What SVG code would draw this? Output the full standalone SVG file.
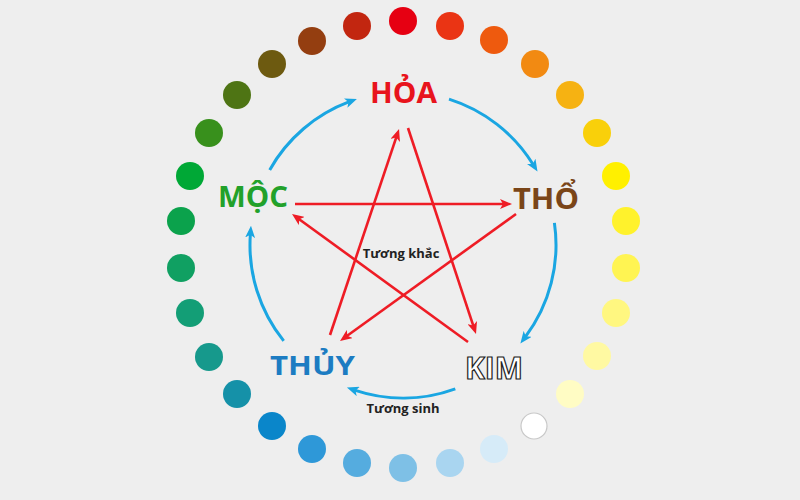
<svg xmlns="http://www.w3.org/2000/svg" width="800" height="500" viewBox="0 0 800 500">
<style>
.lbl{font-family:"Open Sans","Noto Sans","Liberation Sans",sans-serif;font-weight:700;text-anchor:middle}
.small{font-family:"Open Sans","Noto Sans","Liberation Sans",sans-serif;font-weight:700;font-size:13px;fill:#222;text-anchor:middle}
.sinh{fill:none;stroke:#1AA6E2;stroke-width:3;marker-end:url(#ab)}
.khac{fill:none;stroke:#EE1C25;stroke-width:2.6;marker-end:url(#ar)}
</style>
<defs>
<marker id="ab" viewBox="0 0 12 10" refX="4" refY="5" markerWidth="12" markerHeight="10" markerUnits="userSpaceOnUse" orient="auto"><path d="M0,0 L12,5 L0,10 L3,5 z" fill="#1AA6E2"/></marker>
<marker id="ar" viewBox="0 0 12 10" refX="4" refY="5" markerWidth="12" markerHeight="10" markerUnits="userSpaceOnUse" orient="auto"><path d="M0,0 L12,5 L0,10 L3,5 z" fill="#EE1C25"/></marker>
</defs>
<rect width="800" height="500" fill="#EEEEEE"/>
<g id="dots">
<circle cx="403" cy="21" r="14" fill="#E60012"/>
<circle cx="450" cy="26" r="14" fill="#EA3414"/>
<circle cx="494" cy="40" r="14" fill="#EE5A0E"/>
<circle cx="535" cy="64" r="14" fill="#F28A12"/>
<circle cx="570" cy="95" r="14" fill="#F6B212"/>
<circle cx="597" cy="133" r="14" fill="#F9D00A"/>
<circle cx="616" cy="176" r="14" fill="#FFF000"/>
<circle cx="626" cy="221" r="14" fill="#FFF22C"/>
<circle cx="626" cy="268" r="14" fill="#FFF452"/>
<circle cx="616" cy="313" r="14" fill="#FFF780"/>
<circle cx="597" cy="356" r="14" fill="#FFF9A2"/>
<circle cx="570" cy="394" r="14" fill="#FFFCC4"/>
<circle cx="534" cy="426" r="13" fill="#FFFFFF" stroke="#C8C8C8" stroke-width="1.2"/>
<circle cx="494" cy="449" r="14" fill="#D6EBF8"/>
<circle cx="450" cy="463" r="14" fill="#A9D5F0"/>
<circle cx="403" cy="468" r="14" fill="#7EC0E6"/>
<circle cx="357" cy="463" r="14" fill="#55ACDF"/>
<circle cx="312" cy="449" r="14" fill="#2E98D8"/>
<circle cx="272" cy="426" r="14" fill="#0A86CA"/>
<circle cx="237" cy="394" r="14" fill="#1591A8"/>
<circle cx="209" cy="357" r="14" fill="#16998C"/>
<circle cx="190" cy="313" r="14" fill="#139E76"/>
<circle cx="181" cy="268" r="14" fill="#10A062"/>
<circle cx="181" cy="221" r="14" fill="#0BA24C"/>
<circle cx="190" cy="176" r="14" fill="#00A836"/>
<circle cx="209" cy="133" r="14" fill="#38901C"/>
<circle cx="237" cy="95" r="14" fill="#4E7414"/>
<circle cx="272" cy="64" r="14" fill="#6D5A10"/>
<circle cx="312" cy="41" r="14" fill="#943E10"/>
<circle cx="357" cy="26" r="14" fill="#C22610"/>
</g>
<g id="connectors">
<path class="sinh" d="M269.7,169.9 A153,153 0 0 1 349.4,101.7"/>
<path class="sinh" d="M449,99.1 A153,153 0 0 1 533.3,164.8"/>
<path class="sinh" d="M554.4,222.9 A153,153 0 0 1 525.2,337.1"/>
<path class="sinh" d="M455.3,388.8 A153,153 0 0 1 354.5,390.1"/>
<path class="sinh" d="M283.7,340.9 A153,153 0 0 1 250.4,233.8"/>
<path class="khac" d="M295,204 L504,204"/>
<path class="khac" d="M516,214 L346.5,336.3"/>
<path class="khac" d="M330,335 L396.5,136.6"/>
<path class="khac" d="M408,128 L473.5,326.4"/>
<path class="khac" d="M468,342 L298.5,218.7"/>
<text class="small" x="401" y="258">Tương khắc</text>
<text class="small" x="403" y="413">Tương sinh</text>
</g>
<g id="hoa"><text class="lbl" x="403.5" y="103" font-size="29" fill="#E8141C" textLength="67" lengthAdjust="spacingAndGlyphs">HỎA</text></g>
<g id="moc"><text class="lbl" x="253" y="207" font-size="29" fill="#22A12A" textLength="70" lengthAdjust="spacingAndGlyphs">MỘC</text></g>
<g id="tho"><text class="lbl" x="546" y="209" font-size="29" fill="#7A4518" textLength="66" lengthAdjust="spacingAndGlyphs">THỔ</text></g>
<g id="thuy"><text class="lbl" x="312.5" y="375" font-size="27" fill="#1C7CC2" textLength="85" lengthAdjust="spacingAndGlyphs">THỦY</text></g>
<g id="kim"><text class="lbl" x="494" y="379" font-size="30" fill="#FFFFFF" stroke="#222" stroke-width="1.2" textLength="58" lengthAdjust="spacingAndGlyphs">KIM</text></g>
</svg>
